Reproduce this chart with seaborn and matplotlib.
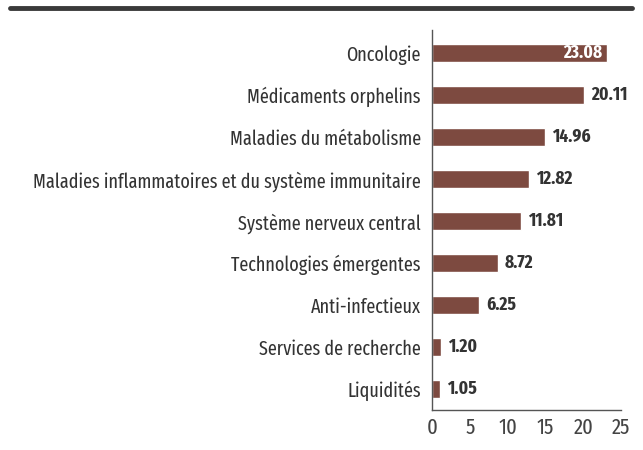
import matplotlib
matplotlib.use("Agg")
import matplotlib.pyplot as plt
import seaborn as sns
import pandas as pd

categories = [
    "Oncologie",
    "Médicaments orphelins",
    "Maladies du métabolisme",
    "Maladies inflammatoires et du système immunitaire",
    "Système nerveux central",
    "Technologies émergentes",
    "Anti-infectieux",
    "Services de recherche",
    "Liquidités",
]
values = [23.08, 20.11, 14.96, 12.82, 11.81, 8.72, 6.25, 1.20, 1.05]
x_ticks = [0, 5, 10, 15, 20, 25]

df = pd.DataFrame({"category": categories, "value": values})

sns.set_style("white")
plt.rcParams["font.family"] = ["Fira Sans Extra Condensed", "Fira Sans Condensed", "DejaVu Sans"]

bar_color = "#7d4a40"
text_color = "#333333"

fig = plt.figure(figsize=(6.43, 4.5), dpi=100)
ax = fig.add_axes([0.672, 0.089, 0.294, 0.844])

sns.barplot(data=df, x="value", y="category", color=bar_color, width=0.42,
            saturation=1, ax=ax)

for i, v in enumerate(values):
    if v > 22:
        ax.text(v - 0.6, i, f"{v:.2f}", ha="right", va="center", color="white",
                fontsize=13.5, fontweight="bold")
    else:
        ax.text(v + 0.9, i, f"{v:.2f}", ha="left", va="center", color=text_color,
                fontsize=13.5, fontweight="bold")

ax.set_xlim(0, 24.6)
ax.set_xticks(x_ticks)
ax.set_ylim(8.5, -0.55)
ax.set_xlabel("")
ax.set_ylabel("")
ax.tick_params(axis="y", length=0, pad=8, labelsize=14.2, labelcolor=text_color)
ax.tick_params(axis="x", length=0, pad=5, labelsize=16, labelcolor="#444444")
for lab in ax.get_xticklabels():
    lab.set_clip_on(False)
for s in ["top", "right"]:
    ax.spines[s].set_visible(False)
for s in ["left", "bottom"]:
    ax.spines[s].set_color("#555555")
    ax.spines[s].set_linewidth(1)

fig.add_artist(plt.Line2D([0.016, 0.983], [0.982, 0.982], color="#3a3a3a",
                          linewidth=3.5, transform=fig.transFigure))

fig.savefig("out.png", dpi=100)
